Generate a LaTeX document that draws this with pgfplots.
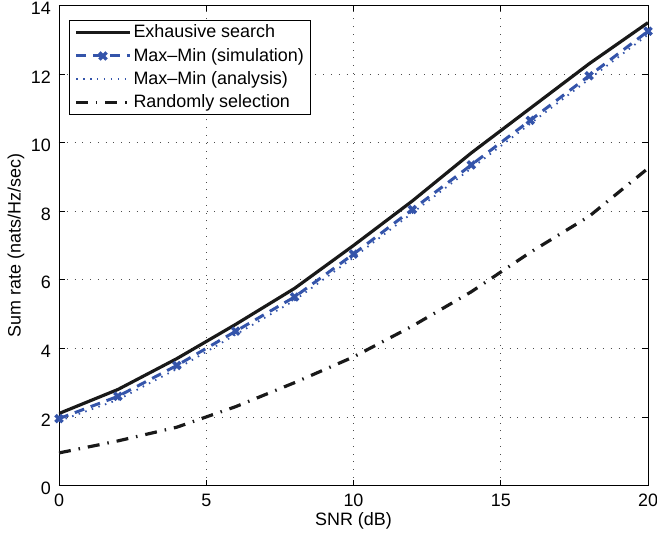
\documentclass[border=0pt]{standalone}
\usepackage{fontspec}
\setmainfont{Liberation Sans}
\usepackage{pgfplots}
\pgfplotsset{compat=1.18}

\definecolor{mmblue}{RGB}{52,84,170}

\pgfplotstableread{
snr  exh   sim    ana    rnd
0    2.10  1.95   1.88   0.95
2    2.80  2.60   2.50   1.30
4    3.70  3.50   3.40   1.70
6    4.70  4.50   4.40   2.30
8    5.75  5.50   5.40   3.00
10   7.00  6.75   6.65   3.75
12   8.30  8.05   7.95   4.65
14   9.70  9.35   9.25   5.65
16   11.00 10.65  10.55  6.80
18   12.30 11.95  11.85  7.85
20   13.50 13.25  13.15  9.25
}\data

\begin{document}
\fontsize{18}{21}\selectfont
\begin{tikzpicture}
\begin{axis}[
    name=ax,
    width=589bp, height=480bp,
    scale only axis,
    xmin=0, xmax=20, ymin=0, ymax=14,
    xtick={0,5,10,15,20},
    ytick={0,2,4,6,8,10,12,14},
    tick align=inside,
    major tick length=6bp,
    grid=major,
    major grid style={black!70, line width=0.8pt, dash pattern=on 0.8pt off 7pt},
    axis line style={line width=1pt},
    every tick/.style={black, line width=0.8pt},
    /pgf/number format/assume math mode=true,
    tick label style={font=\fontsize{18}{21}\selectfont},
    xticklabel style={yshift=-2bp},
    yticklabel style={xshift=-2bp, yshift=-3bp},
    label style={font=\fontsize{18}{21}\selectfont},
    xlabel={SNR (dB)},
    ylabel={Sum rate (nats/Hz/sec)},
    every axis x label/.style={at={(rel axis cs:0.5,0)}, yshift=-35bp, anchor=center},
    every axis y label/.style={at={(rel axis cs:0,0.5)}, xshift=-43bp, rotate=90, anchor=center},
    legend style={at={(rel axis cs:0,1)}, xshift=10bp, yshift=-15bp,
        anchor=north west, draw=black,
        line width=1pt, font=\fontsize{18}{21}\selectfont,
        inner xsep=5pt, inner ysep=2pt, row sep=3.5bp,
        legend cell align=left},
    legend image code/.code={
        \draw[mark repeat=2, mark phase=2, #1] plot coordinates {(0cm,0cm) (0.95cm,0cm) (1.9cm,0cm)};
    },
]
\addplot[black!90, line width=3.2pt, mark=none] table[x=snr, y=exh] {\data};
\addlegendentry{Exhausive search}
\addplot[mmblue, line width=3pt, dash pattern=on 10pt off 7pt, mark=x, mark size=5pt,
    mark options={solid, line width=3.5pt}] table[x=snr, y=sim] {\data};
\addlegendentry{Max--Min (simulation)}
\addplot[mmblue, line width=1.8pt, dash pattern=on 1.5pt off 5.5pt, mark=none] table[x=snr, y=ana] {\data};
\addlegendentry{Max--Min (analysis)}
\addplot[black!90, line width=3.2pt, dash pattern=on 12pt off 8pt on 1.5pt off 8pt, mark=none] table[x=snr, y=rnd] {\data};
\addlegendentry{Randomly selection}
\end{axis}
\pgfresetboundingbox
\path[use as bounding box] ([xshift=-59bp, yshift=-51bp]ax.south west) rectangle ([xshift=9bp, yshift=5.5bp]ax.north east);
\end{tikzpicture}
\end{document}
